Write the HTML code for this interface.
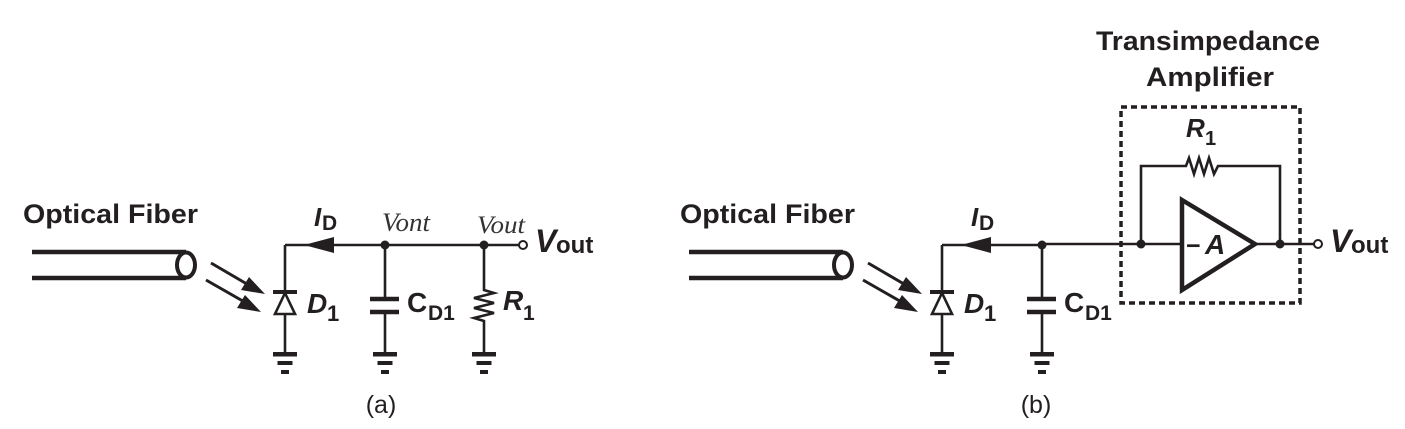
<!DOCTYPE html>
<html><head><meta charset="utf-8"><style>
html,body{margin:0;padding:0;background:#fff;}
svg{display:block;}
.b{font-family:"Liberation Sans",sans-serif;font-weight:bold;fill:#231f20;}
.hw{font-family:"Liberation Serif",serif;font-style:italic;fill:#333;}
</style></head><body>
<svg width="1405" height="429" viewBox="0 0 1405 429" xmlns="http://www.w3.org/2000/svg" stroke="#231f20" fill="none" stroke-width="2.6">
<defs>
<g id="gnd">
<rect x="-12" y="0" width="24" height="4.5" fill="#231f20" stroke="none"/>
<rect x="-7.5" y="9" width="15" height="4" fill="#231f20" stroke="none"/>
<rect x="-4" y="18" width="8" height="4" fill="#231f20" stroke="none"/>
</g>
<g id="fiber">
<line x1="32" y1="252" x2="186" y2="252" stroke-width="4.5"/>
<line x1="32" y1="278" x2="186" y2="278" stroke-width="4.5"/>
<ellipse cx="186" cy="265" rx="9" ry="12.5" stroke-width="4"/>
<line x1="211" y1="263" x2="252" y2="287" stroke-width="3"/>
<polygon points="265,294 241,290 249,277" fill="#231f20" stroke="none"/>
<line x1="206" y1="280" x2="248" y2="304" stroke-width="3"/>
<polygon points="261,312 237,308 245,295" fill="#231f20" stroke="none"/>
<text class="b" x="23" y="223" font-size="27" textLength="175" lengthAdjust="spacingAndGlyphs" stroke="none">Optical Fiber</text>
</g>
<g id="diode">
<line x1="285" y1="245" x2="285" y2="292"/>
<line x1="273" y1="292" x2="297" y2="292" stroke-width="4"/>
<polygon points="285,293 275,314 295,314" fill="#fff" stroke-width="2.6"/>
<line x1="285" y1="315" x2="285" y2="352"/>
<use href="#gnd" x="285" y="352"/>
<text class="b" x="307" y="313" font-size="28" font-style="italic" stroke="none">D</text>
<text class="b" x="327" y="321" font-size="22" stroke="none">1</text>
<line x1="285" y1="245" x2="385" y2="245"/>
<polygon points="304,245 334,237 334,253" fill="#231f20" stroke="none"/>
<text class="b" x="314" y="226" font-size="26" font-style="italic" stroke="none">I</text>
<text class="b" x="322" y="230" font-size="21" stroke="none">D</text>
<line x1="385" y1="245" x2="385" y2="299"/>
<line x1="370" y1="299" x2="399" y2="299" stroke-width="4.5"/>
<line x1="370" y1="312" x2="399" y2="312" stroke-width="4.5"/>
<line x1="385" y1="312" x2="385" y2="352"/>
<use href="#gnd" x="385" y="352"/>
<circle cx="385" cy="245" r="4.5" fill="#231f20" stroke="none"/>
<text class="b" x="407" y="312" font-size="28" stroke="none">C</text>
<text class="b" x="428" y="320" font-size="21" stroke="none">D1</text>
</g>
</defs>

<g>
<use href="#fiber"/>
<use href="#diode"/>
<line x1="385" y1="245" x2="519" y2="245"/>
<circle cx="484" cy="245" r="4.5" fill="#231f20" stroke="none"/>
<polyline points="484,245 484,290 494,293 474,298 494,303 474,308 494,313 474,318 484,321 484,352"/>
<use href="#gnd" x="484" y="352"/>
<text class="b" x="503" y="310" font-size="28" font-style="italic" stroke="none">R</text>
<text class="b" x="523" y="320" font-size="21" stroke="none">1</text>
<circle cx="523" cy="245" r="4" fill="#fff" stroke-width="2"/>
<text class="b" x="535" y="252" font-size="32" font-style="italic" stroke="none">V</text>
<text class="b" x="556" y="253" font-size="24" stroke="none">out</text>
<text class="hw" x="382" y="231" font-size="26" textLength="48" lengthAdjust="spacingAndGlyphs" stroke="none">Vont</text>
<text class="hw" x="477" y="233" font-size="25" textLength="48" lengthAdjust="spacingAndGlyphs" stroke="none">Vout</text>
<text x="381" y="413" font-size="25" font-family="Liberation Sans, sans-serif" fill="#231f20" stroke="none" text-anchor="middle">(a)</text>
</g>

<g >
<g transform="translate(657,0)">
<use href="#fiber"/>
<use href="#diode"/>
</g>
<line x1="1042" y1="244" x2="1182" y2="244"/>
<circle cx="1141" cy="244" r="4.5" fill="#231f20" stroke="none"/>
<polyline points="1141,244 1141,166 1186,166 1189,158 1194,174 1199,158 1204,174 1209,158 1214,174 1218,166 1280,166 1280,244"/>
<polygon points="1182,200 1255,244 1182,290" stroke-width="4.5" stroke-linejoin="miter"/>
<text class="b" x="1186" y="254" font-size="25" stroke="none">−</text>
<text class="b" x="1205" y="254" font-size="28" font-style="italic" stroke="none">A</text>
<line x1="1255" y1="244" x2="1314" y2="244"/>
<circle cx="1280" cy="244" r="4.5" fill="#231f20" stroke="none"/>
<circle cx="1318" cy="244" r="4" fill="#fff" stroke-width="2"/>
<text class="b" x="1330" y="252" font-size="32" font-style="italic" stroke="none">V</text>
<text class="b" x="1351" y="253" font-size="24" stroke="none">out</text>
<text class="b" x="1186" y="137" font-size="26" font-style="italic" stroke="none">R</text>
<text class="b" x="1205" y="145" font-size="20" stroke="none">1</text>
<rect x="1121" y="107" width="179" height="196" stroke-width="3.5" stroke-dasharray="6,4"/>
<text class="b" x="1208" y="50" font-size="27" text-anchor="middle" textLength="224" lengthAdjust="spacingAndGlyphs" stroke="none">Transimpedance</text>
<text class="b" x="1210" y="86" font-size="27" text-anchor="middle" textLength="128" lengthAdjust="spacingAndGlyphs" stroke="none">Amplifier</text>
<text x="1036" y="413" font-size="25" font-family="Liberation Sans, sans-serif" fill="#231f20" stroke="none" text-anchor="middle">(b)</text>
</g>
</svg>
</body></html>
